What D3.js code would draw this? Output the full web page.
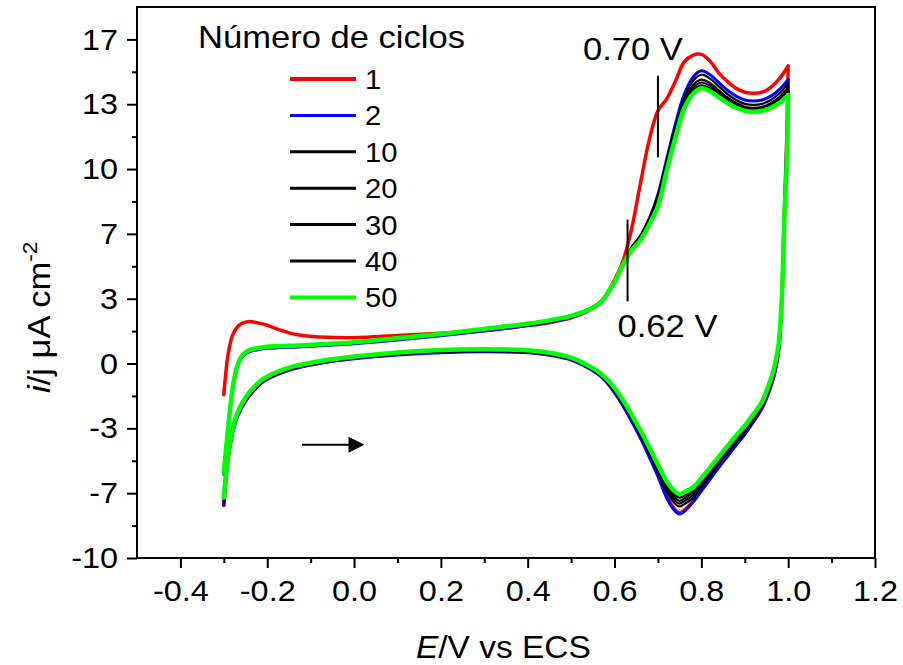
<!DOCTYPE html>
<html><head><meta charset="utf-8">
<script src="https://cdn.jsdelivr.net/npm/d3@7"></script>
<style>
html,body{margin:0;padding:0;background:#fff;}
svg{display:block;font-family:"Liberation Sans", Arial, sans-serif;}
</style></head><body>
<svg id="chart" width="903" height="665"></svg>
<script>
// ---------------- data ----------------
const cycles = ["1", "2", "10", "20", "30", "40", "50"];

// forward (anodic) sweep potentials, V
const E_fwd = [-0.30,-0.29,-0.28,-0.27,-0.26,-0.25,-0.24,-0.22,-0.20,-0.17,-0.13,-0.08,0.00,0.10,0.20,0.30,0.40,0.45,0.50,0.54,0.57,0.60,0.62,0.64,0.66,0.68,0.70,0.72,0.74,0.76,0.78,0.80,0.82,0.84,0.86,0.88,0.90,0.92,0.94,0.96,0.98,1.00];
// reverse (cathodic) sweep potentials, V
const E_rev = [1.00,0.997,0.991,0.985,0.978,0.97,0.96,0.94,0.92,0.90,0.88,0.86,0.84,0.82,0.80,0.78,0.76,0.75,0.74,0.72,0.70,0.68,0.66,0.64,0.62,0.60,0.58,0.56,0.53,0.50,0.45,0.40,0.30,0.20,0.10,0.00,-0.08,-0.14,-0.18,-0.21,-0.23,-0.25,-0.27,-0.28,-0.29,-0.30];

// current density, µA cm-2
const fwd_1  = [-1.6,0.5,1.45,1.85,2.05,2.13,2.16,2.08,1.97,1.72,1.48,1.37,1.33,1.44,1.56,1.70,1.95,2.1,2.35,2.72,3.2,4.3,5.3,7.0,9.3,11.5,13.0,13.6,14.5,15.5,15.85,15.9,15.55,14.95,14.5,14.15,13.95,13.9,13.95,14.2,14.65,15.3];
const rev_1  = [15.3,11.8,7.6,3.1,0.7,-0.35,-1.15,-2.25,-2.95,-3.6,-4.15,-4.72,-5.3,-5.9,-6.5,-7.1,-7.55,-7.68,-7.53,-6.83,-5.73,-4.73,-3.78,-2.94,-2.15,-1.46,-0.88,-0.48,-0.08,0.22,0.47,0.6,0.65,0.6,0.48,0.28,0.03,-0.25,-0.57,-0.92,-1.35,-1.92,-2.78,-3.58,-4.85,-7.3];
const fwd_2  = [-5.7,-3.4,-1.4,-0.3,0.28,0.5,0.62,0.72,0.78,0.82,0.85,0.91,1.02,1.21,1.43,1.67,1.95,2.13,2.38,2.72,3.15,4.15,5.1,5.95,6.55,7.45,8.7,10.5,12.3,13.8,14.7,15.05,14.85,14.45,14.05,13.75,13.55,13.5,13.55,13.75,14.1,14.6];
const rev_2  = [14.6,11.5,7.5,3.0,0.6,-0.4,-1.2,-2.3,-3.0,-3.65,-4.2,-4.78,-5.35,-5.95,-6.55,-7.15,-7.62,-7.74,-7.6,-6.9,-5.8,-4.8,-3.85,-3.0,-2.2,-1.5,-0.92,-0.52,-0.12,0.18,0.42,0.55,0.6,0.56,0.44,0.24,0.0,-0.28,-0.6,-0.95,-1.38,-1.95,-2.8,-3.6,-4.9,-7.3];
const fwd_10 = [-5.65,-3.35,-1.35,-0.25,0.32,0.55,0.66,0.76,0.82,0.86,0.89,0.95,1.06,1.26,1.48,1.72,2.0,2.18,2.43,2.78,3.2,4.2,5.15,6.0,6.6,7.45,8.65,10.4,12.15,13.6,14.5,14.85,14.65,14.25,13.85,13.55,13.35,13.3,13.35,13.55,13.9,14.4];
const rev_10 = [14.4,11.2,7.45,3.05,0.7,-0.3,-1.1,-2.2,-2.9,-3.52,-4.05,-4.62,-5.18,-5.77,-6.35,-6.92,-7.24,-7.35,-7.22,-6.58,-5.57,-4.61,-3.7,-2.87,-2.09,-1.41,-0.86,-0.46,-0.08,0.22,0.46,0.59,0.64,0.6,0.48,0.28,0.04,-0.24,-0.56,-0.9,-1.33,-1.89,-2.74,-3.54,-4.84,-7.2];
const fwd_20 = [-5.62,-3.32,-1.32,-0.22,0.34,0.57,0.68,0.78,0.84,0.88,0.91,0.97,1.08,1.28,1.5,1.74,2.02,2.2,2.45,2.8,3.22,4.2,5.15,5.98,6.55,7.38,8.55,10.3,12.0,13.45,14.3,14.6,14.42,14.05,13.68,13.4,13.2,13.15,13.2,13.38,13.72,14.2];
const rev_20 = [14.2,11.0,7.4,3.1,0.8,-0.2,-1.0,-2.12,-2.8,-3.42,-3.95,-4.52,-5.07,-5.65,-6.22,-6.77,-7.09,-7.2,-7.07,-6.45,-5.48,-4.54,-3.64,-2.81,-2.04,-1.37,-0.83,-0.44,-0.06,0.24,0.48,0.62,0.67,0.63,0.5,0.3,0.06,-0.22,-0.53,-0.88,-1.29,-1.85,-2.7,-3.5,-4.8,-7.1];
const fwd_30 = [-5.61,-3.31,-1.31,-0.21,0.34,0.57,0.69,0.79,0.85,0.89,0.92,0.98,1.09,1.29,1.51,1.75,2.03,2.22,2.47,2.8,3.22,4.2,5.12,5.92,6.45,7.28,8.4,10.1,11.85,13.3,14.15,14.45,14.28,13.92,13.58,13.3,13.12,13.07,13.12,13.3,13.6,14.05];
const rev_30 = [14.05,10.8,7.35,3.15,0.9,-0.12,-0.92,-2.05,-2.72,-3.33,-3.85,-4.41,-4.96,-5.53,-6.1,-6.61,-6.95,-7.06,-6.93,-6.33,-5.4,-4.47,-3.58,-2.77,-2.0,-1.33,-0.81,-0.42,-0.04,0.26,0.51,0.64,0.7,0.66,0.53,0.32,0.08,-0.19,-0.5,-0.85,-1.25,-1.8,-2.66,-3.46,-4.76,-7.0];
const fwd_40 = [-5.6,-3.3,-1.3,-0.2,0.35,0.58,0.7,0.8,0.86,0.9,0.93,0.99,1.1,1.3,1.52,1.76,2.04,2.23,2.48,2.8,3.22,4.2,5.1,5.88,6.4,7.22,8.3,10.0,11.7,13.2,14.0,14.3,14.15,13.82,13.5,13.22,13.06,13.0,13.06,13.22,13.52,13.95];
const rev_40 = [13.95,10.7,7.3,3.2,0.95,-0.05,-0.86,-2.0,-2.66,-3.27,-3.78,-4.33,-4.88,-5.44,-6.0,-6.5,-6.8,-6.9,-6.78,-6.2,-5.31,-4.39,-3.52,-2.71,-1.95,-1.3,-0.78,-0.4,-0.02,0.28,0.53,0.66,0.72,0.68,0.55,0.34,0.1,-0.17,-0.48,-0.82,-1.22,-1.77,-2.62,-3.42,-4.72,-6.95];
const fwd_50 = [-5.6,-3.3,-1.3,-0.2,0.35,0.58,0.70,0.80,0.86,0.90,0.93,0.99,1.10,1.30,1.52,1.78,2.05,2.22,2.45,2.75,3.2,4.2,5.1,5.85,6.35,7.15,8.1,9.9,11.6,13.1,13.85,14.15,14.0,13.7,13.4,13.15,13.0,12.95,13.0,13.15,13.4,13.8];
const rev_50 = [13.8,10.5,7.3,3.2,1.0,0.0,-0.8,-1.95,-2.6,-3.2,-3.7,-4.25,-4.8,-5.35,-5.9,-6.38,-6.62,-6.72,-6.6,-6.05,-5.2,-4.3,-3.45,-2.65,-1.9,-1.25,-0.75,-0.38,0.0,0.3,0.55,0.68,0.74,0.70,0.57,0.36,0.12,-0.15,-0.46,-0.8,-1.2,-1.75,-2.6,-3.4,-4.7,-6.9];

const fwdSeries = [fwd_1, fwd_2, fwd_10, fwd_20, fwd_30, fwd_40, fwd_50];
const revSeries = [rev_1, rev_2, rev_10, rev_20, rev_30, rev_40, rev_50];

const xDomain = [-0.5, 1.2];
const yDomain = [-10, 18.333];
const xTicks = [-0.4, -0.2, 0.0, 0.2, 0.4, 0.6, 0.8, 1.0, 1.2];
const xTickLabels = ["-0.4", "-0.2", "0.0", "0.2", "0.4", "0.6", "0.8", "1.0", "1.2"];
const xMinorTicks = [-0.3, -0.1, 0.1, 0.3, 0.5, 0.7, 0.9, 1.1];
const yTicks = [-10, -6.667, -3.333, 0, 3.333, 6.667, 10, 13.333, 16.667];
const yTickLabels = ["-10", "-7", "-3", "0", "3", "7", "10", "13", "17"];
const yMinorTicks = [-8.333, -5, -1.667, 1.667, 5, 8.333, 11.667, 15];

const legendTitle = "Número de ciclos";
const annotLabels = ["0.70 V", "0.62 V"];
const annotE = [0.70, 0.63];
const annotIRange = [[10.6, 14.8], [3.2, 7.4]];
const arrowFrom = [-0.12, -4.18];
const arrowTo = [0.024, -4.18];

// ---------------- styles ----------------
const colors = ["#ff0000", "#0000ff", "#000000", "#000000", "#000000", "#000000", "#00ff00"];
const widths = [3.5, 3, 2.2, 2.2, 2.2, 2.2, 4.5];
const legendWidths = [4, 3, 3, 3, 3, 3, 4];
const SX = 1.08; // horizontal text stretch

// ---------------- chart ----------------
const svg = d3.select("#chart");
svg.append("rect").attr("width", 903).attr("height", 665).attr("fill", "#fff");

const x = d3.scaleLinear().domain(xDomain).range([137, 875]);
const y = d3.scaleLinear().domain(yDomain).range([558, 7]);

// axes
const gx = svg.append("g").attr("transform", "translate(0,558)")
  .call(d3.axisBottom(x).tickValues(xTicks).tickFormat((d, i) => xTickLabels[i])
    .tickSize(10).tickSizeOuter(0).tickPadding(12));
const gxm = svg.append("g").attr("transform", "translate(0,558)")
  .call(d3.axisBottom(x).tickValues(xMinorTicks).tickFormat("").tickSize(5).tickSizeOuter(0));
const gy = svg.append("g").attr("transform", "translate(137,0)")
  .call(d3.axisLeft(y).tickValues(yTicks).tickFormat((d, i) => yTickLabels[i])
    .tickSize(10).tickSizeOuter(0).tickPadding(9));
const gym = svg.append("g").attr("transform", "translate(137,0)")
  .call(d3.axisLeft(y).tickValues(yMinorTicks).tickFormat("").tickSize(5).tickSizeOuter(0));

[gx, gxm, gy, gym].forEach(g => {
  g.select(".domain").remove();
  g.selectAll(".tick line").attr("stroke", "#000").attr("stroke-width", 2);
  g.selectAll("text").attr("font-size", 30).attr("fill", "#000")
    .attr("font-family", "'Liberation Sans', Arial, sans-serif");
});
gx.selectAll("text").attr("transform", `scale(${SX},1)`);
gy.selectAll("text").attr("x", -19 / SX).attr("transform", `scale(${SX},1)`);

// frame
svg.append("rect").attr("x", x(xDomain[0])).attr("y", y(yDomain[1]))
  .attr("width", x(xDomain[1]) - x(xDomain[0])).attr("height", y(yDomain[0]) - y(yDomain[1]))
  .attr("fill", "none").attr("stroke", "#000").attr("stroke-width", 2);

// curves
const line = d3.line().x(d => x(d[0])).y(d => y(d[1])).curve(d3.curveCatmullRom.alpha(0.5));
const gCurves = svg.append("g");
cycles.forEach((c, k) => {
  const f = E_fwd.map((e, j) => [e, fwdSeries[k][j]]);
  const r = E_rev.map((e, j) => [e, revSeries[k][j]]);
  [f, r].forEach(pts => {
    gCurves.append("path").attr("d", line(pts)).attr("fill", "none")
      .attr("stroke", colors[k]).attr("stroke-width", widths[k])
      .attr("stroke-linejoin", "round").attr("stroke-linecap", "round");
  });
});

// annotations
annotE.forEach((e, k) => {
  svg.append("line").attr("x1", x(e)).attr("x2", x(e))
    .attr("y1", y(annotIRange[k][1])).attr("y2", y(annotIRange[k][0]))
    .attr("stroke", "#000").attr("stroke-width", 2);
});
svg.append("text").attr("transform", `translate(${x(annotE[0]) - 75},60) scale(${SX},1)`)
  .attr("font-size", 32).text(annotLabels[0]);
svg.append("text").attr("transform", `translate(${x(annotE[1]) - 10},337) scale(${SX},1)`)
  .attr("font-size", 32).text(annotLabels[1]);

// arrow
const ax1 = x(arrowFrom[0]), ax2 = x(arrowTo[0]), ay = y(arrowFrom[1]);
svg.append("line").attr("x1", ax1).attr("x2", ax2 - 14).attr("y1", ay).attr("y2", ay)
  .attr("stroke", "#000").attr("stroke-width", 2);
svg.append("path").attr("d", `M${ax2},${ay}L${ax2 - 16},${ay - 8}L${ax2 - 16},${ay + 8}Z`).attr("fill", "#000");

// legend
svg.append("text").attr("transform", `translate(198,48) scale(${SX},1)`)
  .attr("font-size", 32).text(legendTitle);
cycles.forEach((c, k) => {
  const ly = 79 + k * 36.4;
  svg.append("line").attr("x1", 290).attr("x2", 356).attr("y1", ly).attr("y2", ly)
    .attr("stroke", colors[k]).attr("stroke-width", legendWidths[k]);
  svg.append("text").attr("transform", `translate(365,${ly + 10}) scale(${SX},1)`)
    .attr("font-size", 27).text(c);
});

// axis titles
const xl = svg.append("text").attr("transform", `translate(416,658) scale(${SX},1)`).attr("font-size", 31);
xl.append("tspan").attr("font-style", "italic").text("E");
xl.append("tspan").text("/V vs ECS");

const yl = svg.append("text").attr("transform", "translate(50,393) rotate(-90) scale(1.08,1)").attr("font-size", 32);
yl.append("tspan").attr("font-style", "italic").text("i");
yl.append("tspan").text("/j μA cm");
yl.append("tspan").attr("dy", -13).attr("font-size", 21).text("-2");
</script>
</body></html>
